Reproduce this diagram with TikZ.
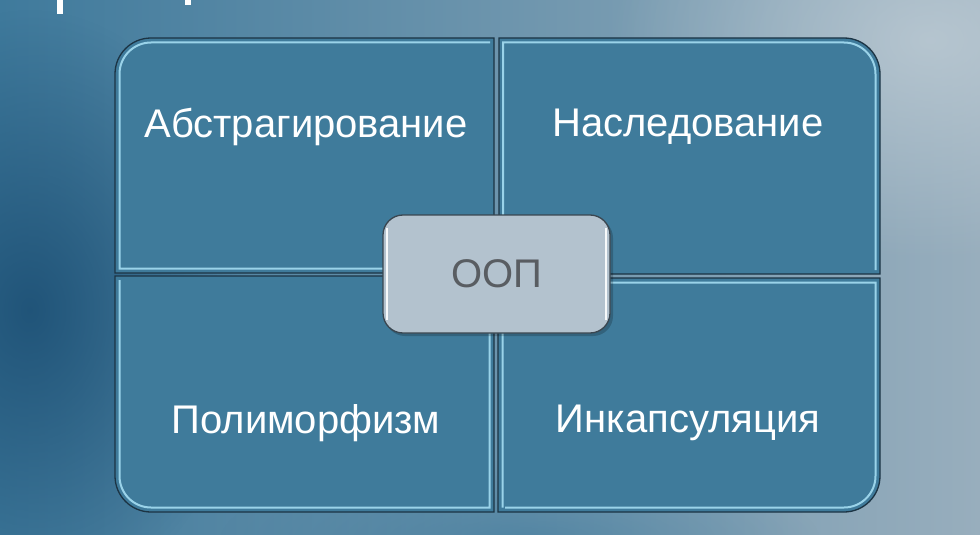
\documentclass[tikz,border=0pt]{standalone}
\usepackage{fontspec}
\setmainfont{Liberation Sans}
\usetikzlibrary{fadings}
\definecolor{bgL}{HTML}{3F7A9C}
\definecolor{bgR}{HTML}{98AEBD}
\definecolor{bgDark}{HTML}{1D5075}
\definecolor{bgLight}{HTML}{C4D0D8}
\definecolor{quad}{HTML}{3F7B9B}
\definecolor{qborder}{HTML}{1C3444}
\definecolor{qlight}{HTML}{A4DDF2}
\definecolor{boxfill}{HTML}{B3C2CE}
\definecolor{boxborder}{HTML}{3A4650}
\definecolor{boxtext}{HTML}{595D62}
\tikzfading[name=softcircle, inner color=transparent!0, outer color=transparent!100]
\tikzset{
  quadrant/.style={fill=quad, draw=qborder, line width=1.3pt},
  quadlight/.style={draw=qlight, line width=2pt, opacity=0.9},
  quadtext/.style={text=white, font=\fontsize{40}{48}\selectfont, inner sep=0pt},
  centerbox/.style={fill=boxfill, draw=boxborder, line width=1.3pt, rounded corners=20pt,
    minimum width=227pt, minimum height=118pt, inner sep=0pt,
    text=boxtext, font=\fontsize{40}{48}\selectfont}
}
\begin{document}
\begin{tikzpicture}[x=1pt,y=-1pt]
\useasboundingbox (0,0) rectangle (980,535);
% background
\shade[left color=bgL, right color=bgR] (0,0) rectangle (980,535);
\fill[bgDark, path fading=softcircle, opacity=0.9] (30,310) ellipse [x radius=220, y radius=300];
\fill[bgLight, path fading=softcircle, opacity=0.7] (930,40) ellipse [x radius=320, y radius=220];
\fill[bgL, path fading=softcircle, opacity=0.6] (520,540) ellipse [x radius=300, y radius=80];
% cut-off title fragments
\fill[white] (57,0) rectangle (63,14);
\fill[white] (185,0) rectangle (191,5);
% quadrants
\path[quadrant] (494,38) -- (151,38) arc[start angle=270, end angle=180, radius=36] -- (115,273) -- (494,273) -- cycle;
\path[quadlight] (490,42.5) -- (151,42.5) arc[start angle=270, end angle=180, radius=31.5] -- (119.5,268.5) -- (490,268.5);
\path[quadrant] (499,38) -- (844,38) arc[start angle=270, end angle=360, radius=36] -- (880,274) -- (499,274) -- cycle;
\path[quadlight] (503,270) -- (503,42.5) -- (844,42.5) arc[start angle=270, end angle=360, radius=31.5] -- (875.5,270);
\path[quadrant] (115,276) -- (115,476) arc[start angle=180, end angle=90, radius=36] -- (494,512) -- (494,276) -- cycle;
\path[quadlight] (119.5,280) -- (119.5,476) arc[start angle=180, end angle=90, radius=31.5] -- (489.5,507.5) -- (489.5,280);
\path[quadrant] (880,278) -- (880,476) arc[start angle=0, end angle=90, radius=36] -- (498,512) -- (498,278) -- cycle;
\path[quadlight] (502.5,507.5) -- (502.5,282.5) -- (875.5,282.5) -- (875.5,476) arc[start angle=0, end angle=90, radius=31.5] -- (505,507.5);
% labels
\node[quadtext] (abs) at (306,127) {Абстрагирование};
\node[quadtext] (inh) at (688,127) {Наследование};
\node[quadtext] (poly) at (306,423) {Полиморфизм};
\node[quadtext] (enc) at (688,423) {Инкапсуляция};
% center
\fill[black, opacity=0.2, rounded corners=20pt] (385,218) rectangle (613,336);
\node[centerbox] (oop) at (496.5,274) {ООП};
\draw[white, line width=2pt, opacity=0.9] ([xshift=5pt,yshift=-14pt]oop.north west) -- ([xshift=5pt,yshift=14pt]oop.south west);
\draw[white, line width=2pt, opacity=0.9] ([xshift=-5pt,yshift=-14pt]oop.north east) -- ([xshift=-5pt,yshift=14pt]oop.south east);
\end{tikzpicture}
\end{document}
